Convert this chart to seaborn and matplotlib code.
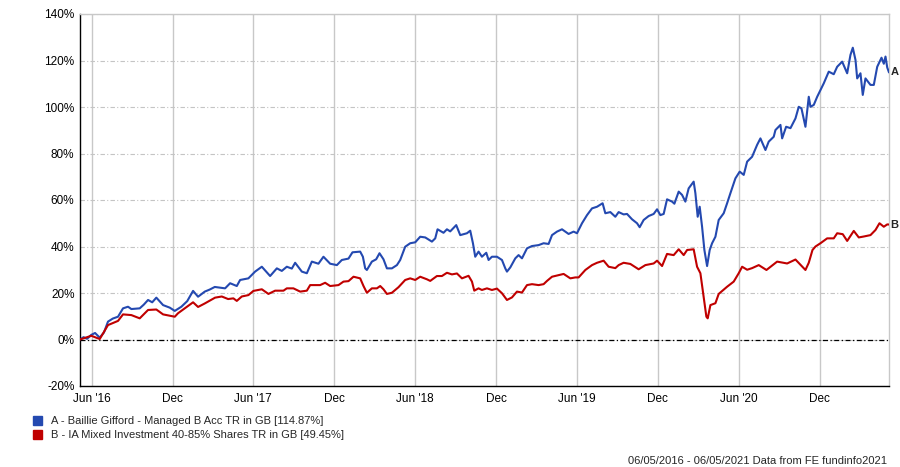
import matplotlib
matplotlib.use("Agg")
import matplotlib.pyplot as plt
import matplotlib.patches as mpatches
import numpy as np
import pandas as pd
import seaborn as sns

# ---------------- data ----------------
start_date = "2016-05-06"
end_date = "2021-05-06"

# days since start date, cumulative total return in %
days_a = [0, 8, 16, 25.5, 34, 44.5, 54, 63.2, 74, 85.8, 97.1, 108.4, 115.9, 134.8, 144, 153.6, 163, 172.3,
          187.5, 202.6, 213.9, 228.8, 242, 255.2, 266.5, 281.6, 293, 304.2, 327.5, 338.8, 353.9, 361.4,
          380.1, 395.2, 410.4, 429.1, 444.3, 455.5, 466.8, 478.1, 485.6, 500.7, 512, 523.3, 538.2, 549.5,
          564.6, 579.8, 591, 606, 615, 632.4, 638.5, 643.7, 647.5, 658.8, 668.5, 676, 685, 692.7, 704,
          715.3, 722.7, 734, 745.3, 756.6, 767.9, 779.2, 794.3, 801.8, 807, 820.5, 828.2, 835.6, 849.2,
          858.2, 873.4, 880.8, 886.9, 892.1, 899.6, 907.2, 917, 922.2, 929.8, 941.1, 952.4, 959.9, 963.7,
          971.2, 982.5, 989.9, 997.6, 1008.9, 1020.2, 1035.1, 1046.4, 1057.7, 1065.4, 1076.6, 1087.9,
          1102.8, 1114.1, 1121.8, 1133.1, 1144.4, 1155.7, 1167, 1179.6, 1185.7, 1197, 1208.3, 1215.8,
          1227, 1234.7, 1246, 1257.3, 1263.2, 1272.2, 1283.5, 1294.8, 1302.5, 1309.9, 1317.4, 1325,
          1336.4, 1341.6, 1351.3, 1358.9, 1366.4, 1373.8, 1385.1, 1389, 1394.2, 1398.7, 1404.1, 1409.3,
          1415.4, 1421.3, 1426.7, 1434.2, 1441.6, 1452.9, 1460.6, 1468, 1479.3, 1489, 1498.1, 1505.8,
          1517, 1528.3, 1535.8, 1547.1, 1554.5, 1565.8, 1569.7, 1581, 1584.8, 1593.8, 1603.6, 1614.9,
          1622.3, 1628.4, 1637.4, 1644.9, 1648.7, 1656.2, 1663.9, 1671.3, 1678.8, 1690, 1701.3, 1709,
          1720.3, 1731.6, 1739, 1744.3, 1750.4, 1754.2, 1761.6, 1766.8, 1772.9, 1784.2, 1791.7, 1799.4,
          1809.1, 1814.3, 1818.1, 1822, 1826]
pct_a = [0, 1.0, 0.3, 2.0, 2.8, 0.8, 3.0, 7.7, 9.0, 9.8, 13.4, 14.1, 13.1, 13.4, 15.0, 17.0, 16.0, 18.0,
         14.8, 13.7, 12.3, 14.1, 16.5, 20.9, 18.4, 20.6, 21.5, 22.6, 22.0, 24.2, 23.0, 25.6,
         26.3, 29.2, 31.3, 27.3, 30.6, 29.5, 31.3, 30.5, 33.0, 29.2, 28.5, 33.5, 32.6, 35.6,
         32.6, 32.0, 34.2, 34.8, 37.5, 37.8, 35.6, 30.6, 29.9, 33.5, 34.5, 37.1, 34.5, 30.6, 30.6,
         32.0, 34.2, 39.9, 41.4, 41.8, 44.2, 43.9, 42.1, 43.5, 47.4, 45.9, 47.4, 46.5, 49.2,
         44.9, 45.7, 46.8, 41.4, 35.6, 37.8, 35.6, 37.3, 34.2, 35.6, 35.6, 34.2, 30.6, 29.2,
         31.0, 34.9, 36.3, 34.9, 39.2, 40.2, 40.6, 41.4, 41.1, 44.9, 46.4, 47.4,
         45.4, 46.4, 45.7, 50.0, 53.5, 56.4, 57.1, 58.6, 54.3, 54.8, 52.8, 54.8,
         53.8, 54.0, 51.7, 50.0, 48.3, 51.4, 53.1, 54.0, 56.0, 53.5, 54.0, 60.3,
         59.3, 58.4, 63.6, 62.2, 59.3, 65.0, 67.9, 62.9, 52.8, 57.1, 48.5, 38.5,
         31.6, 38.5, 41.4, 44.2, 51.4, 54.3, 58.6, 62.9, 69.3, 72.2, 70.8, 76.5,
         78.6, 83.7, 86.5, 81.5, 85.1, 87.2, 90.1, 92.3, 86.5, 91.5, 90.9, 95.1,
         100.1, 99.4, 91.5, 104.4, 100.1, 100.9, 104.4, 107.3, 110.2, 115.2, 114.1, 117.3,
         119.5, 114.5, 122.4, 125.5, 120.2, 112.3, 114.5, 105.2, 112.3, 109.5, 109.5, 117.3,
         121.2, 118.6, 121.7, 117.0, 114.87]

days_b = [0, 25.5, 44.5, 63.2, 85.8, 97.1, 115.9, 134.8, 153.6, 172.3, 187.5, 213.9, 221.3, 255.2,
          266.5, 281.6, 304.9, 320, 334.3, 346.2, 353.9, 365.2, 380.1, 391.4, 410.4, 425.3, 440.4,
          459.2, 466.8, 481.7, 496.9, 512, 519.5, 542, 553.3, 564.6, 583.4, 594.7, 606, 617.3, 632.4,
          639.9, 647.5, 658.8, 670.1, 677.6, 685, 692.7, 704, 718.9, 734, 745.3, 756.6, 767.9, 783,
          790.5, 805.6, 816.9, 828.2, 839.5, 850.8, 862.1, 877, 884.7, 889.9, 899.6, 907.2, 918.5,
          929.8, 941.1, 952.4, 963.7, 975, 986.3, 997.6, 1008.9, 1020.2, 1035.1, 1046.4, 1054.1,
          1065.4, 1080.3, 1091.6, 1106.7, 1118, 1125.4, 1140.6, 1155.7, 1167, 1181.9, 1193.2, 1208.3,
          1215.8, 1227, 1242.2, 1260.9, 1276.1, 1294.8, 1302.5, 1313.8, 1325, 1340, 1351.3, 1362.6,
          1370.3, 1385.1, 1392.8, 1400.3, 1406.4, 1413.8, 1416.8, 1422.9, 1434.2, 1441.6, 1460.6,
          1475.5, 1486.8, 1494.5, 1505.8, 1517, 1532, 1549.4, 1573.5, 1596.1, 1614.9, 1637.4, 1644.9,
          1653.3, 1660.1, 1671.3, 1686.4, 1701.3, 1709, 1721.6, 1731.6, 1746.5, 1757.8, 1769.1,
          1784.2, 1795.5, 1804.5, 1814.3, 1822, 1826]
pct_b = [0, 1.6, 0.2, 6.2, 8.0, 10.8, 10.5, 9.1, 12.7, 12.9, 10.8, 9.8, 11.3, 16.0,
         14.0, 15.5, 18.0, 18.5, 17.4, 17.7, 16.6, 18.5, 19.1, 20.9, 21.6, 19.6, 21.0,
         21.0, 22.0, 22.0, 20.6, 21.0, 23.4, 23.4, 24.4, 23.0, 23.4, 24.9, 25.1, 27.0, 26.3,
         23.0, 20.1, 22.0, 22.0, 23.0, 21.6, 19.6, 20.1, 22.5, 25.6, 26.3, 25.6, 27.0, 25.9,
         25.2, 27.3, 27.3, 28.7, 28.0, 28.4, 26.3, 27.4, 24.9, 21.0, 22.0, 21.3, 22.0,
         21.3, 21.9, 19.9, 17.0, 18.1, 20.6, 20.2, 23.4, 23.8, 23.4, 23.8, 25.2,
         27.0, 27.7, 28.2, 26.3, 26.7, 26.7, 29.9, 32.0, 33.0, 33.9, 31.3, 30.7,
         32.0, 33.0, 32.5, 30.2, 32.0, 32.7, 33.9, 31.6, 36.8, 36.3, 38.8, 36.3,
         38.5, 38.8, 31.3, 28.5, 19.9, 9.8, 9.1, 14.8, 15.6, 19.6, 22.7,
         24.9, 28.5, 31.3, 30.0, 30.7, 32.0, 29.9, 33.5, 32.7, 34.4, 29.9, 33.0,
         38.5, 40.0, 41.4, 43.5, 43.5, 45.7, 45.3, 42.4, 46.7, 43.9, 44.3,
         44.9, 47.1, 50.0, 48.5, 49.5, 49.45]

series_names = ["A - Baillie Gifford - Managed B Acc TR in GB [114.87%]",
                "B - IA Mixed Investment 40-85% Shares TR in GB [49.45%]"]
series_tags = ["A", "B"]
series_colors = ["#2449B0", "#C00000"]

y_ticks = [-20, 0, 20, 40, 60, 80, 100, 120, 140]
x_tick_dates = ["2016-06-01", "2016-12-01", "2017-06-01", "2017-12-01", "2018-06-01",
                "2018-12-01", "2019-06-01", "2019-12-01", "2020-06-01", "2020-12-01"]
x_tick_labels = ["Jun '16", "Dec", "Jun '17", "Dec", "Jun '18", "Dec", "Jun '19", "Dec", "Jun '20", "Dec"]
footer = "06/05/2016 - 06/05/2021 Data from FE fundinfo2021"

# ---------------- build frame ----------------
t0 = pd.Timestamp(start_date)
frames = []
for tag, d, v in [("A", days_a, pct_a), ("B", days_b, pct_b)]:
    frames.append(pd.DataFrame({
        "date": t0 + pd.to_timedelta(np.array(d), unit="D"),
        "value": v,
        "series": tag,
    }))
df = pd.concat(frames, ignore_index=True)

# ---------------- plot ----------------
sns.set_theme(style="white")
plt.rcParams["font.family"] = ["Liberation Sans", "DejaVu Sans"]

fig = plt.figure(figsize=(9, 4.67), dpi=100)
ax = fig.add_axes([80 / 900, 1 - 386 / 467, 809 / 900, 372 / 467])

sns.lineplot(data=df, x="date", y="value", hue="series", hue_order=series_tags,
             palette=dict(zip(series_tags, series_colors)), linewidth=1.5,
             legend=False, ax=ax, zorder=3)

ax.set_xlim(t0, pd.Timestamp(end_date))
ax.set_ylim(y_ticks[0], y_ticks[-1])
ax.set_yticks(y_ticks)
ax.set_yticklabels([f"{t}%" for t in y_ticks])
ax.set_xticks(pd.to_datetime(x_tick_dates))
ax.set_xticklabels(x_tick_labels)
ax.set_xlabel("")
ax.set_ylabel("")

ax.xaxis.grid(True, color="#C8C8C8", linewidth=1.0, linestyle="-")
ax.yaxis.grid(True, color="#C4C4C4", linewidth=0.8, linestyle=(0, (4, 2, 1, 2)))
ax.axhline(0, color="black", linewidth=0.9, linestyle=(0, (4, 2, 1, 2)), zorder=2)

for side in ["top", "right"]:
    ax.spines[side].set_color("#C8C8C8")
    ax.spines[side].set_linewidth(1.0)
for side in ["left", "bottom"]:
    ax.spines[side].set_color("black")
    ax.spines[side].set_linewidth(1.0)

ax.tick_params(axis="x", length=3, color="#C8C8C8", labelsize=8.5, pad=2, labelcolor="black")
ax.tick_params(axis="y", length=0, labelsize=8.5, pad=4, labelcolor="black")

# end labels
for tag, vals in [("A", pct_a), ("B", pct_b)]:
    ax.annotate(tag, xy=(pd.Timestamp(end_date), vals[-1]), xytext=(1, 0),
                textcoords="offset points", va="center", ha="left",
                fontsize=8, fontweight="bold", annotation_clip=False)

handles = [mpatches.Patch(color=c) for c in series_colors]
fig.legend(handles, series_names, loc="upper left", bbox_to_anchor=(33 / 900, 1 - 416 / 467),
           frameon=False, fontsize=8, handlelength=0.8, handleheight=0.8, handletextpad=0.8,
           labelspacing=0.35, borderaxespad=0, borderpad=0)

fig.text(887 / 900, 1 - 461 / 467, footer, ha="right", va="center", fontsize=8)

fig.savefig("out.png", dpi=100)
